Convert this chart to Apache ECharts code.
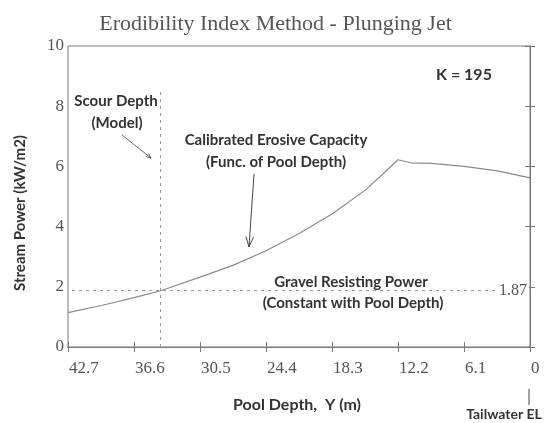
<!DOCTYPE html>
<html>
<head>
<meta charset="utf-8">
<script src="https://cdn.jsdelivr.net/npm/echarts@6/dist/echarts.min.js"></script>
<style>html,body{margin:0;padding:0;background:#fff}#c{width:551px;height:423px}</style>
</head>
<body>
<div id="c"></div>
<script>
// Pool depth (m) and calibrated erosive capacity (kW/m2)
const depth = [42.7, 39.6, 36.6, 34.2, 30.5, 27.4, 24.4, 21.3, 18.3, 15.2, 13.5, 12.2, 11.0, 9.1, 6.1, 3.0, 0];
const power = [1.14, 1.38, 1.64, 1.86, 2.32, 2.72, 3.20, 3.78, 4.42, 5.22, 5.78, 6.22, 6.12, 6.10, 6.00, 5.85, 5.62];
const gravelPower = 1.87;
const scourDepth = 34.2;
const scourTop = 8.5;
const kValue = 195;
const xMin = 0, xMax = 42.7, xStep = 6.1;
const yMin = 0, yMax = 10, yStep = 2;

const SERIF = '"Liberation Serif", "DejaVu Serif", serif';
const SANS = 'Lato, "Open Sans", sans-serif';
const labelCol = '#555';
const axisCol = '#777';

function arrow(x1, y1, x2, y2, len, ang, w) {
  const a = Math.atan2(y2 - y1, x2 - x1);
  const p1 = [x2 - len * Math.cos(a - ang), y2 - len * Math.sin(a - ang)];
  const p2 = [x2 - len * Math.cos(a + ang), y2 - len * Math.sin(a + ang)];
  const st = {stroke: '#444', lineWidth: w, fill: null};
  return [
    {type: 'line', shape: {x1, y1, x2, y2}, style: st},
    {type: 'polyline', shape: {points: [p1, [x2, y2], p2]}, style: st}
  ];
}
function txt(t, x, y, size, extra) {
  return Object.assign({type: 'text', x, y, style: {text: t, font: 'bold ' + size + 'px ' + SANS, fill: '#333', align: 'center', verticalAlign: 'middle'}}, extra || {});
}

const chart = echarts.init(document.getElementById('c'), null, {renderer: 'canvas'});
const xAxisBase = {
  type: 'value', min: xMin, max: xMax, interval: xStep, inverse: true,
  axisLine: {show: true, lineStyle: {color: axisCol, width: 1}},
  axisTick: {show: true, inside: true, length: 5, lineStyle: {color: axisCol}},
  splitLine: {show: false}
};
const yAxisBase = {
  type: 'value', min: yMin, max: yMax, interval: yStep,
  axisLine: {show: true, lineStyle: {color: axisCol, width: 1}},
  axisTick: {show: true, inside: true, length: 5, lineStyle: {color: axisCol}},
  splitLine: {show: false}
};

chart.setOption({
  animation: false,
  backgroundColor: '#fff',
  title: {
    text: 'Erodibility Index Method - Plunging Jet',
    left: 'center', top: 8,
    textStyle: {fontFamily: SERIF, fontSize: 22, fontWeight: 'normal', color: '#555'}
  },
  grid: {left: 68, right: 21, top: 46, bottom: 76, show: true, borderColor: axisCol, borderWidth: 1},
  xAxis: [
    Object.assign({}, xAxisBase, {
      position: 'bottom',
      axisLabel: {
        show: true, color: labelCol, fontFamily: SERIF, fontSize: 17, margin: 13, align: 'left', padding: [0, 0, 0, 1],
        formatter: v => (Math.abs(v) < 1e-9 ? '0' : v.toFixed(1))
      }
    }),
    Object.assign({}, xAxisBase, {position: 'top', axisLabel: {show: false}})
  ],
  yAxis: [
    Object.assign({}, yAxisBase, {
      position: 'left',
      axisLabel: {show: true, color: labelCol, fontFamily: SERIF, fontSize: 17, margin: 4}
    }),
    Object.assign({}, yAxisBase, {position: 'right', axisLabel: {show: false}})
  ],
  series: [
    {
      name: 'Calibrated Erosive Capacity',
      type: 'line',
      data: depth.map((d, i) => [d, power[i]]),
      showSymbol: false, symbol: 'none',
      lineStyle: {color: '#8a8a8a', width: 1.2},
      z: 3
    },
    {
      name: 'Gravel Resisting Power',
      type: 'line',
      data: [],
      markLine: {
        silent: true, symbol: 'none',
        lineStyle: {color: '#9a9a9a', width: 1, type: [3, 4]},
        data: [
          {yAxis: gravelPower,
           label: {show: true, position: 'insideStart', distance: 1, formatter: String(gravelPower),
                   fontFamily: SERIF, fontSize: 16, color: labelCol, backgroundColor: '#fff',
                   verticalAlign: 'middle', padding: [0, 2, 0, 2]}},
          [{coord: [scourDepth, yMin], label: {show: false}}, {coord: [scourDepth, scourTop]}]
        ]
      }
    }
  ],
  graphic: [].concat(
    [
      txt('Stream Power (kW/m2)', 20, 213, 15, {rotation: Math.PI / 2}),
      txt('Pool Depth,  Y (m)', 297, 405, 16),
      txt('Tailwater EL', 504, 414, 14),
      {type: 'line', shape: {x1: 529, y1: 389, x2: 529, y2: 405}, style: {stroke: '#444', lineWidth: 1}},
      txt('K = ' + kValue, 464, 75, 16),
      txt('Scour Depth', 116, 101, 15),
      txt('(Model)', 117, 123, 15),
      txt('Calibrated Erosive Capacity', 276, 140, 15),
      txt('(Func. of Pool Depth)', 276, 162, 15),
      txt('Gravel Resisting Power', 351, 282, 15),
      txt('(Constant with Pool Depth)', 353, 303, 15)
    ],
    arrow(122, 135, 151, 158, 5, 0.4, 0.8),
    arrow(254, 174, 249, 247, 11, 0.35, 1)
  )
});
</script>
</body>
</html>
